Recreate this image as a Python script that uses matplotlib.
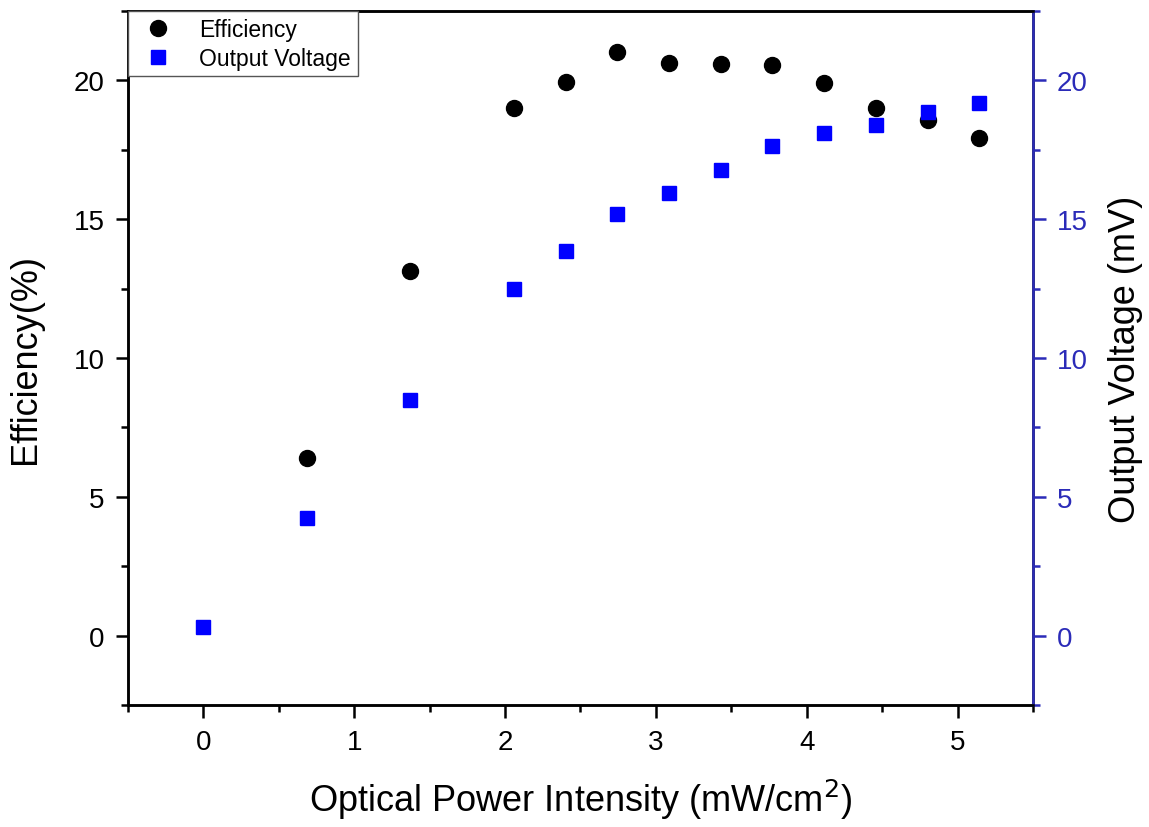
import numpy as np
import matplotlib.pyplot as plt
from matplotlib.ticker import MultipleLocator

plt.rcParams['font.family'] = ['Liberation Sans', 'DejaVu Sans']

# dati
power = [0.0, 0.686, 1.372, 2.058, 2.401, 2.744, 3.087, 3.43, 3.773, 4.116, 4.459, 4.802, 5.145]
eff_power = power[1:]
efficiency = [6.41, 13.15, 18.99, 19.93, 21.01, 20.61, 20.58, 20.54, 19.89, 18.99, 18.59, 17.91]
voltage = [0.32, 4.22, 8.50, 12.50, 13.84, 15.17, 15.96, 16.79, 17.62, 18.09, 18.38, 18.88, 19.17]

blue_axis = '#2b2bb8'

fig = plt.figure(figsize=(11.49, 8.28), dpi=100)
ax = fig.add_axes([0.1114, 0.1473, 0.7876, 0.8382])
ax2 = ax.twinx()

p1, = ax.plot(eff_power, efficiency, 'o', color='black', markersize=11.5, label='Efficiency')
p2, = ax2.plot(power, voltage, 's', color='#0000ff', markersize=9.5, label='Output Voltage')

for a in (ax, ax2):
    a.set_xlim(-0.5, 5.5)
    a.set_ylim(-2.5, 22.5)
    a.yaxis.set_major_locator(MultipleLocator(5))
    a.yaxis.set_minor_locator(MultipleLocator(2.5))

ax.xaxis.set_major_locator(MultipleLocator(1))
ax.xaxis.set_minor_locator(MultipleLocator(0.5))

ax.tick_params(which='major', direction='out', length=9, width=1.8, labelsize=20, pad=8)
ax.tick_params(which='minor', direction='out', length=5, width=1.8)
ax2.tick_params(which='major', direction='out', length=9, width=1.8, labelsize=20, pad=8,
                colors=blue_axis)
ax2.tick_params(which='minor', direction='out', length=5, width=1.8, colors=blue_axis)

for s in ax.spines.values():
    s.set_linewidth(1.8)
for s in ax2.spines.values():
    s.set_linewidth(1.8)
ax2.spines['right'].set_color(blue_axis)

ax.set_xlabel('Optical Power Intensity (mW/cm$^2$)', fontsize=26, labelpad=16)
ax.set_ylabel('Efficiency(%)', fontsize=26, labelpad=22)
ax2.set_ylabel('Output Voltage (mV)', fontsize=26, labelpad=15)

leg = ax2.legend([p1, p2], ['Efficiency', 'Output Voltage'], loc='upper left',
                 fontsize=16.5, fancybox=False, framealpha=1, edgecolor='#555555',
                 borderaxespad=0, handletextpad=0.8, borderpad=0.3, labelspacing=0.25)
leg.get_frame().set_linewidth(1.0)

fig.savefig('out.png', dpi=100)
